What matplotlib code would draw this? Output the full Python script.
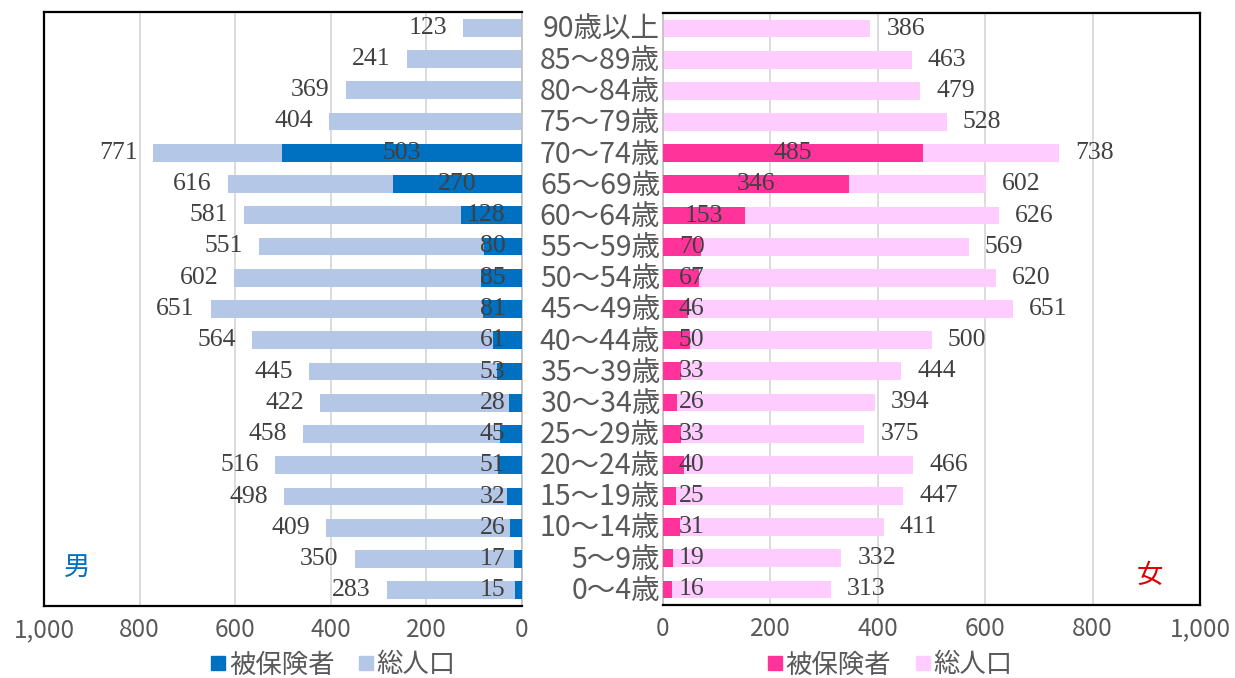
import matplotlib
matplotlib.use("Agg")
import matplotlib.pyplot as plt
from matplotlib.lines import Line2D
import numpy as np

categories = ["90歳以上", "85～89歳", "80～84歳", "75～79歳", "70～74歳", "65～69歳",
              "60～64歳", "55～59歳", "50～54歳", "45～49歳", "40～44歳", "35～39歳",
              "30～34歳", "25～29歳", "20～24歳", "15～19歳", "10～14歳", "5～9歳", "0～4歳"]
male_total = [123, 241, 369, 404, 771, 616, 581, 551, 602, 651, 564, 445, 422, 458, 516, 498, 409, 350, 283]
male_insured = [None, None, None, None, 503, 270, 128, 80, 85, 81, 61, 53, 28, 45, 51, 32, 26, 17, 15]
female_total = [386, 463, 479, 528, 738, 602, 626, 569, 620, 651, 500, 444, 394, 375, 466, 447, 411, 332, 313]
female_insured = [None, None, None, None, 485, 346, 153, 70, 67, 46, 50, 33, 26, 33, 40, 25, 31, 19, 16]
xticks = [0, 200, 400, 600, 800, 1000]

C_M_INS = "#0070C0"
C_M_TOT = "#B4C7E7"
C_F_INS = "#FF3399"
C_F_TOT = "#FFCCFF"
LBL = "#404040"
TICK = "#595959"
SANS = ["Noto Sans CJK JP", "DejaVu Sans"]
SERIF = ["Liberation Serif", "DejaVu Serif"]
LFS = 18.5

W, H = 1235, 678
fig = plt.figure(figsize=(W / 100, H / 100), dpi=100)
axL = fig.add_axes([44 / W, (H - 606) / H, 478 / W, 594 / H])
axR = fig.add_axes([663 / W, (H - 605) / H, 537 / W, 592 / H])

n = len(categories)
y = np.arange(n)[::-1]
bh = 0.57

def nz(v):
    return 0 if v is None else v

axL.barh(y, male_total, height=bh, color=C_M_TOT, zorder=2, label="総人口")
axL.barh(y, [nz(v) for v in male_insured], height=bh, color=C_M_INS, zorder=3, label="被保険者")
axR.barh(y, female_total, height=bh, color=C_F_TOT, zorder=2, label="総人口")
axR.barh(y, [nz(v) for v in female_insured], height=bh, color=C_F_INS, zorder=3, label="被保険者")

for ax, inv in ((axL, True), (axR, False)):
    ax.set_ylim(-0.5, n - 0.5)
    if inv:
        ax.set_xlim(1000, 0)
    else:
        ax.set_xlim(0, 1000)
    ax.set_xticks(xticks)
    ax.set_xticklabels([f"{t:,}" for t in xticks], family=SANS, fontsize=17.5, color=TICK)
    ax.tick_params(axis="x", length=0, pad=8)
    ax.set_yticks([])
    ax.grid(axis="x", color="#D9D9D9", lw=1.3, zorder=0)
    ax.set_axisbelow(True)
    for s in ax.spines.values():
        s.set_color("black")
        s.set_linewidth(1.6)

axL.spines["right"].set_color("#BFBFBF")
axL.spines["right"].set_linewidth(1.2)
axR.spines["left"].set_color("#BFBFBF")
axR.spines["left"].set_linewidth(1.2)

# total labels outside
for yi, v in zip(y, male_total):
    axL.annotate(str(v), (v, yi), xytext=(-11.5, 0), textcoords="offset points",
                 ha="right", va="center", family=SERIF, fontsize=LFS, color=LBL, zorder=5)
for yi, v in zip(y, female_total):
    axR.annotate(str(v), (v, yi), xytext=(11.5, 0), textcoords="offset points",
                 ha="left", va="center", family=SERIF, fontsize=LFS, color=LBL, zorder=5)

# insured labels centered, clamped away from the axis
fig.canvas.draw()
r = fig.canvas.get_renderer()
for yi, v in zip(y, male_insured):
    if v is None:
        continue
    t = axL.text(v / 2, yi, str(v), ha="center", va="center", family=SERIF, fontsize=LFS, color=LBL, zorder=5)
    bb = t.get_window_extent(r)
    x0 = axL.transData.transform((0, yi))[0]
    if bb.x1 > x0 - 17:
        t.remove()
        axL.annotate(str(v), (0, yi), xytext=(-12, 0), textcoords="offset points",
                     ha="right", va="center", family=SERIF, fontsize=LFS, color=LBL, zorder=5)
for yi, v in zip(y, female_insured):
    if v is None:
        continue
    t = axR.text(v / 2, yi, str(v), ha="center", va="center", family=SERIF, fontsize=LFS, color=LBL, zorder=5)
    bb = t.get_window_extent(r)
    x0 = axR.transData.transform((0, yi))[0]
    if bb.x0 < x0 + 16:
        t.remove()
        axR.annotate(str(v), (0, yi), xytext=(11.5, 0), textcoords="offset points",
                     ha="left", va="center", family=SERIF, fontsize=LFS, color=LBL, zorder=5)

# category labels in the middle
for yi, c in zip(y, categories):
    axR.annotate(c, (0, yi), xytext=(-2, -1), textcoords="offset points", ha="right", va="center",
                 family=SANS, fontsize=20.5, color=TICK, annotation_clip=False)

axL.text(0.07, 0.065, "男", transform=axL.transAxes, family=SANS, fontsize=19, color=C_M_INS,
         ha="center", va="center")
axR.text(0.907, 0.05, "女", transform=axR.transAxes, family=SANS, fontsize=19, color="#E00000",
         ha="center", va="center")

def legend(c_ins, c_tot, cx):
    hs = [Line2D([], [], marker="s", ls="none", markersize=10, color=c_ins),
          Line2D([], [], marker="s", ls="none", markersize=10, color=c_tot)]
    fig.legend(hs, ["被保険者", "総人口"], loc="center", bbox_to_anchor=(cx / W, 1 - 665 / H),
               ncol=2, frameon=False, prop={"family": SANS, "size": 19},
               handlelength=0.6, handletextpad=0.1, columnspacing=0.9, labelcolor=TICK)

legend(C_M_INS, C_M_TOT, 333)
legend(C_F_INS, C_F_TOT, 890)

fig.savefig("out.png", dpi=100)
